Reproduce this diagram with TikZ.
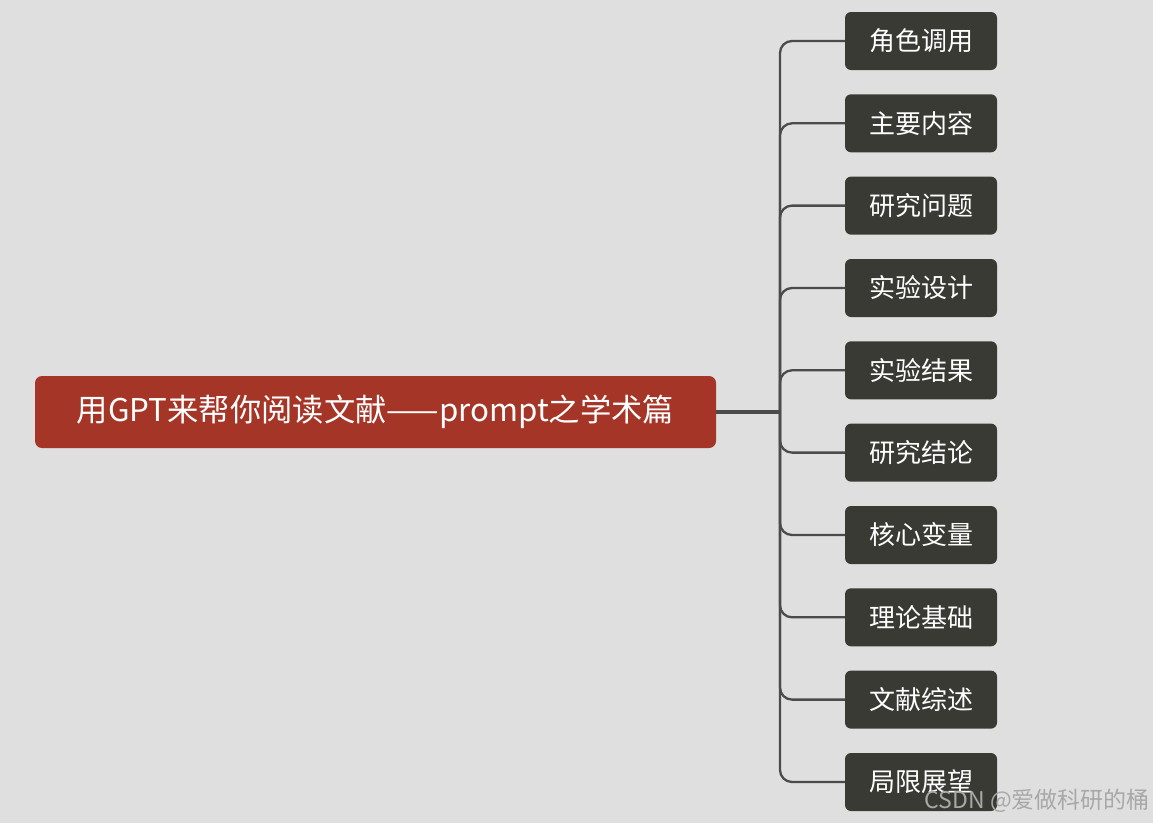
\documentclass[tikz,border=0pt]{standalone}
\usepackage{fontspec}
\setmainfont{Noto Sans CJK SC}
\definecolor{bg}{HTML}{DFDFDF}
\definecolor{rootc}{HTML}{A53526}
\definecolor{childc}{HTML}{3A3A34}
\definecolor{linec}{HTML}{4B4B4B}
\definecolor{wm}{HTML}{A8A8A8}
\tikzset{
  rootbox/.style={fill=rootc, rounded corners=7pt, minimum width=681pt, minimum height=72pt, inner sep=0pt, text=white, font=\fontsize{31.3}{34}\selectfont},
  childbox/.style={fill=childc, rounded corners=6pt, minimum width=152pt, minimum height=58pt, inner sep=0pt, text=white, font=\fontsize{26}{29}\selectfont},
  link/.style={draw=linec, line width=2.3pt, rounded corners=12pt},
  rootlink/.style={draw=linec, line width=3.2pt},
}
\begin{document}
\begin{tikzpicture}[x=1pt,y=-1pt]
\fill[bg] (0,0) rectangle (1153,823);
\useasboundingbox (0,0) rectangle (1153,823);
\node[rootbox] (root) at (375.5,412) {用GPT来帮你阅读文献——prompt之学术篇};
\coordinate (trunk) at (780,412);
\node[childbox] (c1) at (921,41) {角色调用};
\node[childbox] (c2) at (921,123.3) {主要内容};
\node[childbox] (c3) at (921,205.6) {研究问题};
\node[childbox] (c4) at (921,288) {实验设计};
\node[childbox] (c5) at (921,370.3) {实验结果};
\node[childbox] (c6) at (921,452.6) {研究结论};
\node[childbox] (c7) at (921,535) {核心变量};
\node[childbox] (c8) at (921,617.3) {理论基础};
\node[childbox] (c9) at (921,699.6) {文献综述};
\node[childbox] (c10) at (921,782) {局限展望};
\draw[rootlink] (root.east) -- (trunk);
\foreach \c in {c1,c2,c3,c4,c5,c6,c7,c8,c9,c10}{
  \draw[link] (trunk) |- (\c.west);
}
\node[text=wm, font=\fontsize{23}{25}\selectfont, anchor=east, inner sep=0pt] (wmark) at (1150,801) {CSDN @爱做科研的桶};
\end{tikzpicture}
\end{document}
